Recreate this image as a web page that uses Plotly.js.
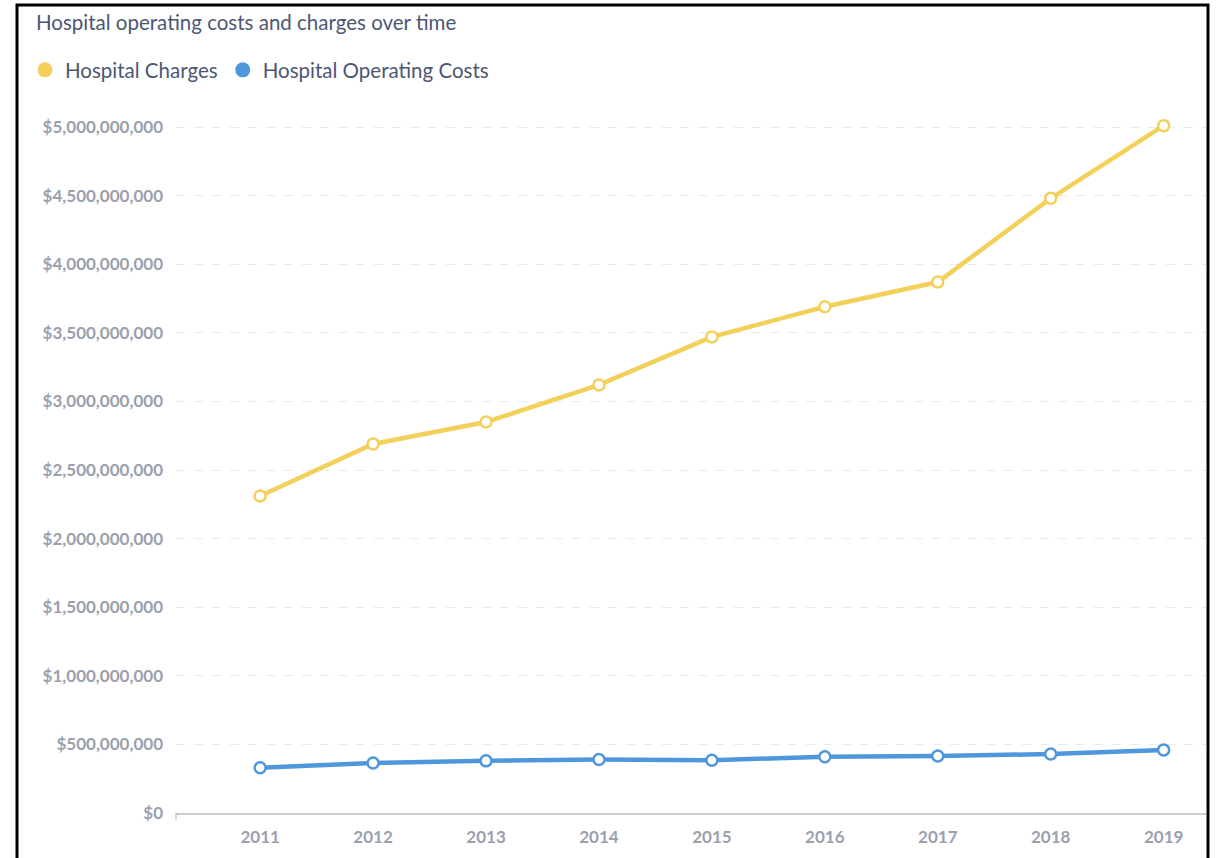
<!DOCTYPE html>
<html>
<head>
<meta charset="utf-8">
<script src="https://cdn.plot.ly/plotly-3.0.1.min.js"></script>
<style>
  html, body { margin: 0; padding: 0; background: #ffffff; }
  #chart { width: 1220px; height: 858px; }
</style>
</head>
<body>
<div id="chart"></div>
<script>
const years = [2011, 2012, 2013, 2014, 2015, 2016, 2017, 2018, 2019];
const yearLabels = ["2011", "2012", "2013", "2014", "2015", "2016", "2017", "2018", "2019"];
const hospitalCharges = [2.31e9, 2.69e9, 2.85e9, 3.12e9, 3.47e9, 3.69e9, 3.87e9, 4.48e9, 5.01e9];
const hospitalOperatingCosts = [0.33e9, 0.365e9, 0.38e9, 0.39e9, 0.385e9, 0.41e9, 0.415e9, 0.43e9, 0.46e9];
const yTicks = [0, 5e8, 1e9, 1.5e9, 2e9, 2.5e9, 3e9, 3.5e9, 4e9, 4.5e9, 5e9];
const yTickLabels = ["$0", "$500,000,000", "$1,000,000,000", "$1,500,000,000", "$2,000,000,000",
  "$2,500,000,000", "$3,000,000,000", "$3,500,000,000", "$4,000,000,000", "$4,500,000,000", "$5,000,000,000"];

const yellow = '#F3D05A';
const blue = '#4F97DD';
const W = 1220, H = 858;
const m = {l: 176, r: 14, t: 100, b: 45};
const pw = W - m.l - m.r, ph = H - m.t - m.b;
const px = v => (v - m.l) / pw;
const py = v => (H - m.b - v) / ph;

const lineTrace = (name, y, color) => ({
  type: 'scatter', mode: 'lines+markers', name: name, x: years, y: y,
  showlegend: false,
  line: {color: color, width: 4.5},
  marker: {size: 11, color: '#ffffff', line: {color: color, width: 2.5}},
  hoverinfo: 'x+y'
});
const legendTrace = (name, color) => ({
  type: 'scatter', mode: 'markers', name: name, x: [null], y: [null],
  marker: {size: 15, color: color}, showlegend: true
});

const data = [
  lineTrace('Hospital Charges', hospitalCharges, yellow),
  lineTrace('Hospital Operating Costs', hospitalOperatingCosts, blue),
  legendTrace('Hospital Charges', yellow),
  legendTrace('Hospital Operating Costs', blue)
];

const tickFont = {size: 17, color: '#9aa0ad', family: 'Lato, sans-serif', weight: 'bold'};

const layout = {
  width: W, height: H,
  margin: m,
  paper_bgcolor: '#ffffff', plot_bgcolor: '#ffffff',
  font: {family: 'Lato, "Open Sans", sans-serif', color: '#4c5773'},
  title: {
    text: 'Hospital operating costs and charges over time',
    xref: 'container', yref: 'container',
    x: 36 / W, xanchor: 'left', y: 1 - 23 / H, yanchor: 'middle',
    font: {size: 20.5, color: '#4c5773', family: 'Lato, sans-serif'}
  },
  legend: {
    orientation: 'h', x: px(25), xanchor: 'left', y: py(70), yanchor: 'middle',
    font: {size: 20.5, color: '#4c5773', family: 'Lato, sans-serif'},
    itemwidth: 30, tracegroupgap: 0, bgcolor: 'rgba(0,0,0,0)'
  },
  xaxis: {
    range: [2011 - 0.745, 2019 + 0.375],
    tickvals: years, ticktext: yearLabels,
    showgrid: false, zeroline: false,
    showline: true, linecolor: '#c9cbd0', linewidth: 1.5,
    ticks: '', ticklen: 0, ticklabelstandoff: 8,
    tickfont: tickFont,
    fixedrange: true
  },
  yaxis: {
    range: [0, (H - m.b - m.t) / 137.2 * 1e9],
    tickvals: yTicks, ticktext: yTickLabels,
    showgrid: true, gridcolor: '#e9eaec', griddash: 'dash', gridwidth: 1,
    zeroline: false, showline: false, ticks: '',
    ticklabelstandoff: 12,
    tickfont: tickFont,
    fixedrange: true
  },
  shapes: [
    {type: 'rect', xref: 'paper', yref: 'paper', layer: 'above',
     x0: px(17), x1: px(1208), y0: py(870), y1: py(5),
     line: {color: '#000000', width: 3}, fillcolor: 'rgba(0,0,0,0)'},
    {type: 'line', xref: 'paper', yref: 'paper',
     x0: 0, x1: 0, y0: py(813), y1: py(820),
     line: {color: '#c9cbd0', width: 1.5}}
  ]
};

Plotly.newPlot('chart', data, layout, {displayModeBar: false, staticPlot: true});
</script>
</body>
</html>
